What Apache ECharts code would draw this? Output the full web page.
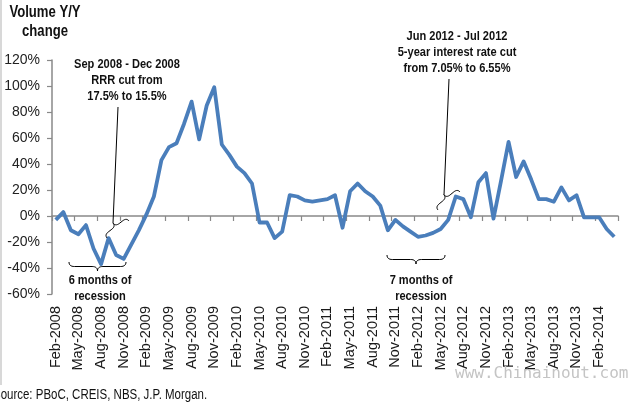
<!DOCTYPE html>
<html>
<head>
<meta charset="utf-8">
<script src="https://cdn.jsdelivr.net/npm/echarts@6/dist/echarts.min.js"></script>
<style>
html,body{margin:0;padding:0;background:#fff;}
#chart{width:640px;height:403px;}
</style>
</head>
<body>
<div id="chart"></div>
<script>
const months = [
  'Feb-2008','Mar-2008','Apr-2008','May-2008','Jun-2008','Jul-2008','Aug-2008','Sep-2008','Oct-2008','Nov-2008','Dec-2008',
  'Jan-2009','Feb-2009','Mar-2009','Apr-2009','May-2009','Jun-2009','Jul-2009','Aug-2009','Sep-2009','Oct-2009','Nov-2009','Dec-2009',
  'Jan-2010','Feb-2010','Mar-2010','Apr-2010','May-2010','Jun-2010','Jul-2010','Aug-2010','Sep-2010','Oct-2010','Nov-2010','Dec-2010',
  'Jan-2011','Feb-2011','Mar-2011','Apr-2011','May-2011','Jun-2011','Jul-2011','Aug-2011','Sep-2011','Oct-2011','Nov-2011','Dec-2011',
  'Jan-2012','Feb-2012','Mar-2012','Apr-2012','May-2012','Jun-2012','Jul-2012','Aug-2012','Sep-2012','Oct-2012','Nov-2012','Dec-2012',
  'Jan-2013','Feb-2013','Mar-2013','Apr-2013','May-2013','Jun-2013','Jul-2013','Aug-2013','Sep-2013','Oct-2013','Nov-2013','Dec-2013',
  'Jan-2014','Feb-2014','Mar-2014','Apr-2014'
];
const volumeYoY = [
  -3, 3, -11, -14, -7, -25, -37, -17, -30, -33, -22,
  -11, 1, 15, 43, 53, 56, 71, 88, 59, 85, 99, 55,
  47, 38, 33, 25, -5, -5, -17, -12, 16, 15, 12, 11,
  12, 13, 16, -9, 19, 25, 19, 15, 8, -11, -3, -8,
  -12, -16, -15, -13, -10, -3, 15, 13, -1, 26, 33, -2,
  27, 57, 30, 42, 28, 13, 13, 11, 22, 12, 16, -1,
  -1, -1, -10, -16
];
const yMin = -60, yMax = 120, yStep = 20;

const titleLines = ['Volume Y/Y', 'change'];
const note1Lines = ['Sep 2008 - Dec 2008', 'RRR cut from', '17.5% to 15.5%'];
const note2Lines = ['Jun 2012 - Jul 2012', '5-year interest rate cut', 'from 7.05% to 6.55%'];
const recession1Lines = ['6 months of', 'recession'];
const recession2Lines = ['7 months of', 'recession'];
const sourceText = 'Source: PBoC, CREIS, NBS, J.P. Morgan.';
const watermark = 'www.Chinainout.com';

const REG = "'Liberation Sans',Arial,sans-serif";
const AXIS = '#898989';
const SQ = 0.82; // horizontal squeeze of the original artwork

function qpts(p0, c, p1, n) {
  const out = [];
  for (let i = 1; i <= n; i++) {
    const t = i / n, a = (1-t)*(1-t), b = 2*(1-t)*t, d = t*t;
    out.push([a*p0[0]+b*c[0]+d*p1[0], a*p0[1]+b*c[1]+d*p1[1]]);
  }
  return out;
}
function bracePoints(A, B, h, side) {
  const dx = B[0]-A[0], dy = B[1]-A[1], L = Math.hypot(dx, dy);
  const ex = [dx/L, dy/L];
  const n = [-ex[1]*side, ex[0]*side];
  const P = (u, v) => [A[0]+u*ex[0]+v*n[0], A[1]+u*ex[1]+v*n[1]];
  const q = Math.min(h*0.6, L/6), m = L/2, k = h/2;
  let pts = [P(0,0)];
  pts = pts.concat(qpts(P(0,0), P(0,k), P(q,k), 8));
  pts.push(P(m-q,k));
  pts = pts.concat(qpts(P(m-q,k), P(m,k), P(m,h), 8));
  pts = pts.concat(qpts(P(m,h), P(m,k), P(m+q,k), 8));
  pts.push(P(L-q,k));
  pts = pts.concat(qpts(P(L-q,k), P(L,k), P(L,0), 8));
  return pts;
}
function brace(A, B, h, side) {
  return { type: 'polyline', z: 10, shape: { points: bracePoints(A, B, h, side) },
    style: { fill: null, stroke: '#000', lineWidth: 1 } };
}
function txt(lines, x, y, font, lh, align) {
  return { type: 'text', z: 10, x: x, y: y, scaleX: SQ,
    style: { text: lines.join('\n'), x: 0, y: 0, font: font, fill: '#111',
      align: align || 'center', verticalAlign: 'top', lineHeight: lh } };
}
function ln(x1, y1, x2, y2) {
  return { type: 'line', z: 10, shape: { x1: x1, y1: y1, x2: x2, y2: y2 }, style: { stroke: '#000', lineWidth: 1 } };
}

const chart = echarts.init(document.getElementById('chart'));
chart.setOption({
  animation: false,
  backgroundColor: '#fff',
  grid: { left: 52, right: 22, top: 60, bottom: 109, containLabel: false },
  xAxis: [
    { type: 'category', data: months, position: 'bottom', boundaryGap: true,
      axisLine: { show: false, onZero: false }, axisTick: { show: false },
      axisLabel: { interval: 2, rotate: 90, margin: 12, fontSize: 14.5, fontFamily: REG, color: '#1a1a1a' },
      splitLine: { show: false } },
    { type: 'category', data: months, position: 'bottom', boundaryGap: true,
      axisLine: { show: true, onZero: true, lineStyle: { color: AXIS, width: 1.5 } },
      axisTick: { show: true, interval: 2, length: 5, lineStyle: { color: AXIS, width: 1.2 } },
      axisLabel: { show: false }, splitLine: { show: false } }
  ],
  yAxis: {
    type: 'value', min: yMin, max: yMax, interval: yStep,
    axisLine: { show: true, lineStyle: { color: AXIS, width: 1.5 } },
    axisTick: { show: true, length: 5, lineStyle: { color: AXIS, width: 1.2 } },
    splitLine: { show: false },
    axisLabel: { formatter: '{value}%', fontSize: 14, fontFamily: REG, color: '#222', margin: 12 }
  },
  series: [{
    type: 'line', xAxisIndex: 0, data: volumeYoY, symbol: 'none', z: 3,
    lineStyle: { color: '#4A7EBB', width: 3.8, join: 'round' }
  }],
  graphic: [
    { type: 'rect', shape: { x: 0, y: 0, width: 2, height: 385 }, style: { fill: '#d8d8d8' } },
    txt(titleLines, 45, 3, 'bold 16px ' + REG, 19),
    txt(note1Lines, 127, 56, 'bold 13.5px ' + REG, 16),
    txt(note2Lines, 457, 28, 'bold 13.5px ' + REG, 16),
    txt(recession1Lines, 100, 272, 'bold 13.5px ' + REG, 16),
    txt(recession2Lines, 421, 272, 'bold 13.5px ' + REG, 16),
    ln(118, 107, 113, 223),
    ln(449, 79, 444, 195),
    brace([107, 238], [129, 221], 8, -1),
    brace([438, 210], [460, 192], 8, -1),
    brace([69, 262], [126, 262], 9, 1),
    brace([387, 255], [445, 255], 9, 1),
    txt([sourceText], -7, 387, '14px ' + REG, 16, 'left'),
    { type: 'text', z: 10, style: { text: watermark, x: 455, y: 366, font: '16px "DejaVu Sans Mono",monospace', fill: '#c4c4c4', align: 'left', verticalAlign: 'top' } }
  ]
});
</script>
</body>
</html>
